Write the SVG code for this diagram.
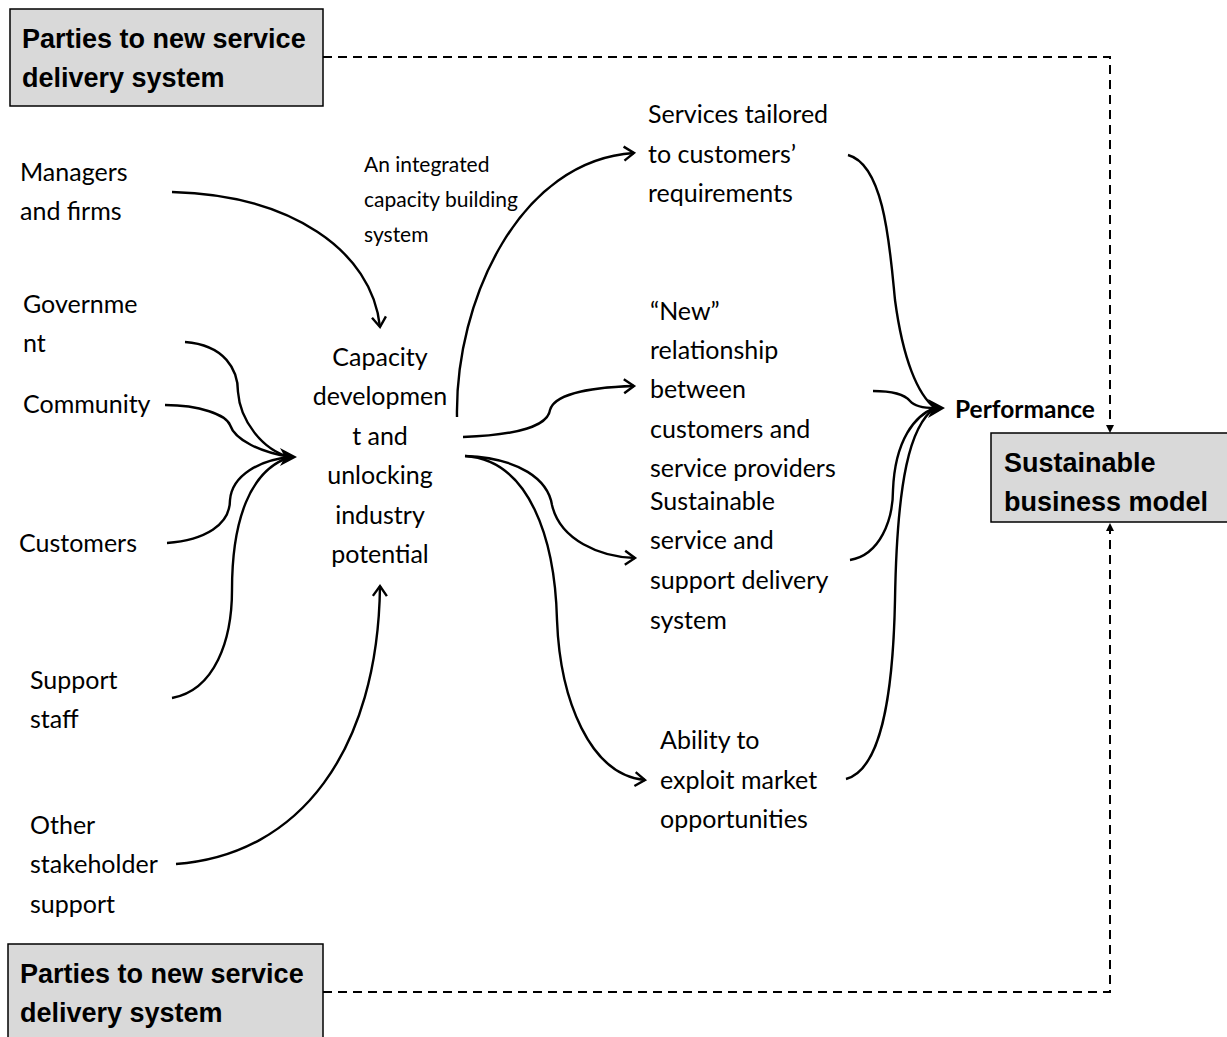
<svg xmlns="http://www.w3.org/2000/svg" width="1227" height="1037" viewBox="0 0 1227 1037">
<style>
.box{fill:#d9d9d9;stroke:#000;stroke-width:1.5}
.bt{font-family:"Liberation Sans",Arial,sans-serif;font-weight:bold;font-size:27px;fill:#000}
.t{font-family:Lato,"Liberation Sans",sans-serif;font-size:25px;fill:#000}
.ts{font-family:Lato,"Liberation Sans",sans-serif;font-size:21px;fill:#000}
.c{text-anchor:middle}
.perf{font-family:Lato,"Liberation Sans",sans-serif;font-weight:bold;font-size:24.5px;fill:#000}
.ln{fill:none;stroke:#000;stroke-width:2.4}
.ar{fill:none;stroke:#000;stroke-width:2.4;marker-end:url(#open)}
.dash{fill:none;stroke:#000;stroke-width:2;stroke-dasharray:9,6}
</style>
<defs>
<marker id="open" markerUnits="userSpaceOnUse" markerWidth="16" markerHeight="18" refX="12" refY="8" orient="auto" viewBox="0 0 16 16">
<path d="M2,1 L12,8 L2,15" fill="none" stroke="#000" stroke-width="2.4"/>
</marker>
</defs>
<rect width="1227" height="1037" fill="#fff"/>

<g id="connectors">
<path class="dash" d="M323,57 H1110 V426"/>
<polygon points="1106,425 1114,425 1110,433" fill="#000"/>
<path class="dash" d="M323,992 H1110 V531"/>
<polygon points="1106,531 1114,531 1110,523" fill="#000"/>

<path class="ar" d="M172,192 C290,195 372,250 380,327"/>
<path class="ar" d="M176,864 C300,855 378,750 380,586"/>

<path class="ln" d="M185,342 C225,345 238,370 238,392 C240,420 262,450 290,457"/>
<path class="ln" d="M165,405 C200,405 226,415 230,425 C235,440 260,452 290,457"/>
<path class="ln" d="M167,543 C205,540 230,525 230,500 C232,475 260,460 290,457"/>
<path class="ln" d="M172,698 C215,690 232,640 232,590 C232,520 250,470 290,457"/>
<polygon points="280,448 297,457 280,466 285,457" fill="#000"/>

<path class="ar" d="M457,417 C455,300 520,160 634,153"/>
<path class="ar" d="M463,437 C520,435 548,425 550,410 C555,392 600,387 634,386"/>
<path class="ar" d="M465,456 C520,458 548,480 552,505 C560,540 600,557 635,558"/>
<path class="ar" d="M465,456 C530,460 555,540 557,620 C560,700 590,775 645,780"/>

<path class="ln" d="M848,155 C885,165 890,250 895,300 C903,360 918,395 935,408"/>
<path class="ln" d="M873,391 C895,391 905,395 910,401 C915,407 925,408 935,408"/>
<path class="ln" d="M850,560 C880,555 893,520 893,490 C895,440 915,415 935,408"/>
<path class="ln" d="M846,779 C880,770 893,700 895,600 C897,480 910,425 935,408"/>
<polygon points="928,399 945,408 928,418 933,408" fill="#000"/>
</g>

<g id="node-parties-top">
<rect class="box" x="10" y="9" width="313" height="97"/>
<text class="bt" x="22" y="48">Parties to new service</text>
<text class="bt" x="22" y="87">delivery system</text>
</g>

<g id="node-parties-bottom">
<rect class="box" x="8" y="944" width="315" height="100"/>
<text class="bt" x="20" y="983">Parties to new service</text>
<text class="bt" x="20" y="1022">delivery system</text>
</g>

<g id="node-sustainable">
<rect class="box" x="991" y="433" width="240" height="89"/>
<text class="bt" x="1004" y="472">Sustainable</text>
<text class="bt" x="1004" y="511">business model</text>
</g>

<g id="node-performance">
<text class="perf" x="955" y="418">Performance</text>
</g>

<g id="node-managers">
<text class="t" x="20" y="181">Managers</text>
<text class="t" x="20" y="220">and firms</text>
</g>
<g id="node-government">
<text class="t" x="23" y="313">Governme</text>
<text class="t" x="23" y="352">nt</text>
</g>
<g id="node-community">
<text class="t" x="23" y="413">Community</text>
</g>
<g id="node-customers">
<text class="t" x="19" y="552">Customers</text>
</g>
<g id="node-support">
<text class="t" x="30" y="689">Support</text>
<text class="t" x="30" y="728">staff</text>
</g>
<g id="node-other">
<text class="t" x="30" y="834">Other</text>
<text class="t" x="30" y="873">stakeholder</text>
<text class="t" x="30" y="913">support</text>
</g>

<g id="label-integrated">
<text class="ts" x="364" y="172">An integrated</text>
<text class="ts" x="364" y="207">capacity building</text>
<text class="ts" x="364" y="242">system</text>
</g>

<g id="node-capacity">
<text class="t c" x="380" y="366">Capacity</text>
<text class="t c" x="380" y="405">developmen</text>
<text class="t c" x="380" y="445">t and</text>
<text class="t c" x="380" y="484">unlocking</text>
<text class="t c" x="380" y="524">industry</text>
<text class="t c" x="380" y="563">potential</text>
</g>

<g id="node-services">
<text class="t" x="648" y="123">Services tailored</text>
<text class="t" x="648" y="163">to customers’</text>
<text class="t" x="648" y="202">requirements</text>
</g>

<g id="node-relationship">
<text class="t" x="650" y="320">“New”</text>
<text class="t" x="650" y="359">relationship</text>
<text class="t" x="650" y="398">between</text>
<text class="t" x="650" y="438">customers and</text>
<text class="t" x="650" y="477">service providers</text>
</g>

<g id="node-sustainable-service">
<text class="t" x="650" y="510">Sustainable</text>
<text class="t" x="650" y="549">service and</text>
<text class="t" x="650" y="589">support delivery</text>
<text class="t" x="650" y="629">system</text>
</g>

<g id="node-ability">
<text class="t" x="660" y="749">Ability to</text>
<text class="t" x="660" y="789">exploit market</text>
<text class="t" x="660" y="828">opportunities</text>
</g>
</svg>
